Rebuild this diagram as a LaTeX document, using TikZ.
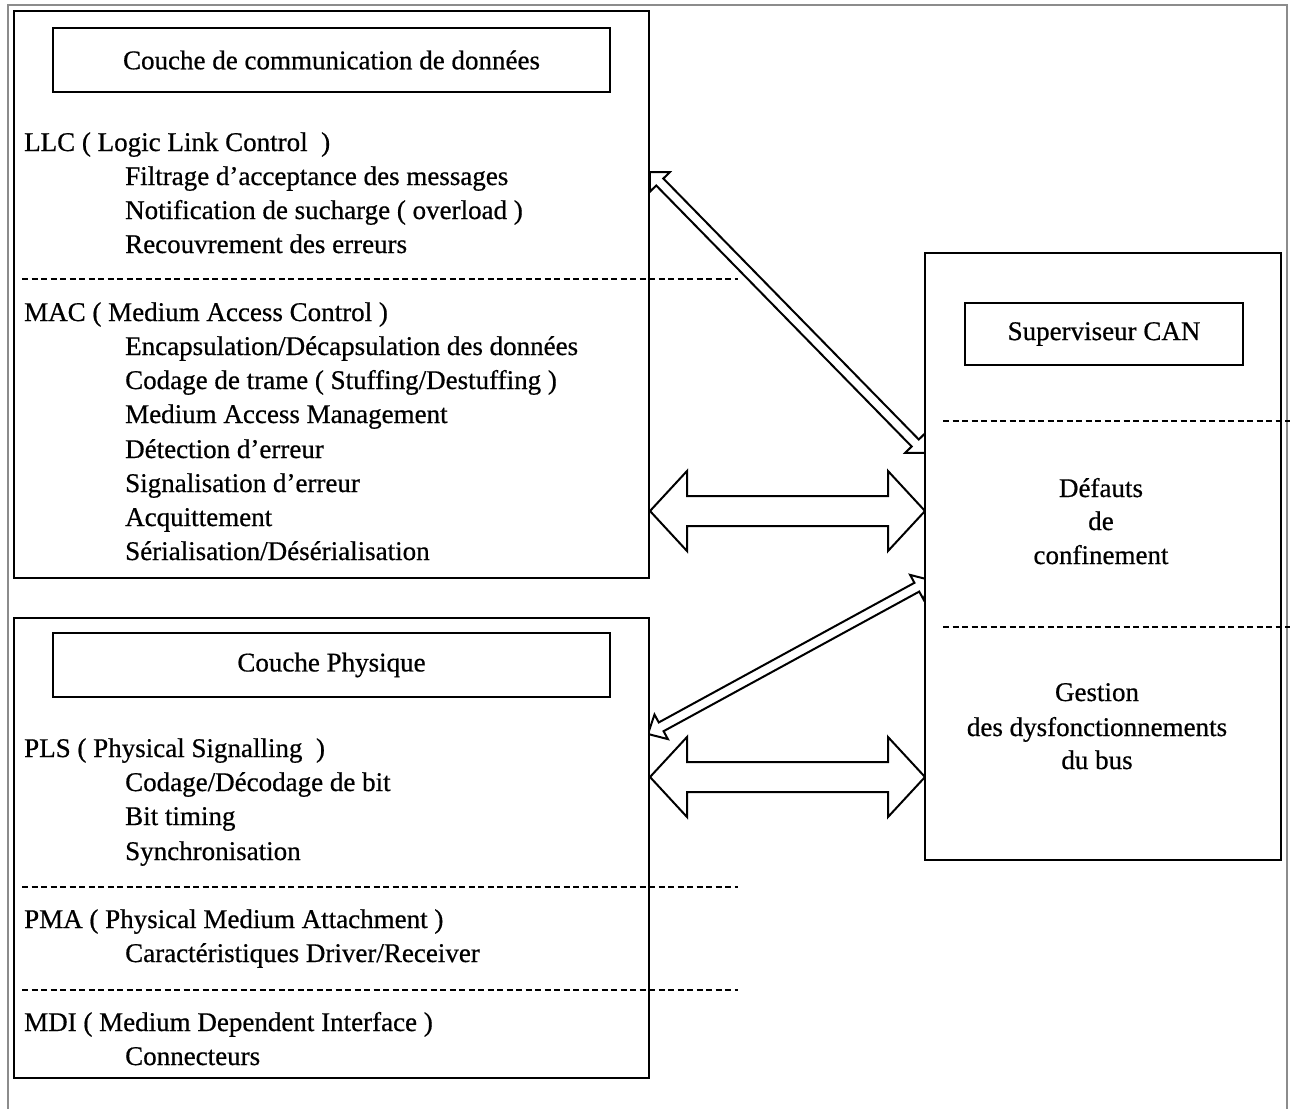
\documentclass[tikz,border=0pt]{standalone}
\usepackage{fontspec}
\setmainfont{Liberation Serif}[FakeBold=0.6]
\usetikzlibrary{calc}
\newcommand\dblblockarrow[5]{% start, end, shaft half-width, head half-width, head length
  \coordinate (tmpa) at ($(#1)!#5!(#2)$);
  \coordinate (tmpb) at ($(#2)!#5!(#1)$);
  \draw[blockarrow] (#1) -- ($(tmpa)!#4!90:(#2)$) -- ($(tmpa)!#3!90:(#2)$)
    -- ($(tmpb)!#3!-90:(#1)$) -- ($(tmpb)!#4!-90:(#1)$) -- (#2)
    -- ($(tmpb)!#4!90:(#1)$) -- ($(tmpb)!#3!90:(#1)$)
    -- ($(tmpa)!#3!-90:(#2)$) -- ($(tmpa)!#4!-90:(#2)$) -- cycle;
}
\begin{document}
\begin{tikzpicture}[x=1pt,y=-1pt,
  frame/.style={draw=black, line width=2.4pt, inner sep=0pt, outer sep=0pt},
  txt/.style={anchor=base west, inner sep=0pt, font=\fontsize{27pt}{32pt}\selectfont},
  ctxt/.style={anchor=base, inner sep=0pt, font=\fontsize{27pt}{32pt}\selectfont},
  sepline/.style={draw=black, line width=1.6pt, dash pattern=on 6pt off 3.5pt},
  blockarrow/.style={draw=black, line width=2pt, fill=white, line join=miter},
  outerframe/.style={draw=black!45, line width=2.5pt}]
\useasboundingbox (0,0) rectangle (1292,1108);
\fill[white] (0,0) rectangle (1292,1108);
\draw[outerframe] (8,5) rectangle (1287,1140);

% main boxes
\node[frame, anchor=north west, minimum width=635pt, minimum height=567pt] (comm) at (14,11) {};
\node[frame, anchor=north west, minimum width=635pt, minimum height=460pt] (phys) at (14,618) {};
\node[frame, anchor=north west, minimum width=356pt, minimum height=607pt] (sup) at (925,253) {};

% title boxes
\node[frame, minimum width=557pt, minimum height=64pt, font=\fontsize{27pt}{32pt}\selectfont] (commtitle) at (331.5,60) {Couche de communication de données};
\node[frame, minimum width=557pt, minimum height=64pt, font=\fontsize{27pt}{32pt}\selectfont] (phystitle) at (331.5,665) {Couche Physique};
\node[frame, minimum width=278pt, minimum height=62pt, font=\fontsize{27pt}{32pt}\selectfont] (suptitle) at (1104,334) {Superviseur CAN};

% dashed separators
\draw[sepline] (22,279) -- (738,279);
\draw[sepline] (22,887) -- (738,887);
\draw[sepline] (22,990) -- (738,990);
\draw[sepline] (943,421) -- (1290,421);
\draw[sepline] (943,627) -- (1290,627);

% texts of upper box
\node[txt] (llc) at (24,151) {LLC ( Logic Link Control~~)};
\node[txt] (llc1) at (125,185) {Filtrage d'acceptance des messages};
\node[txt] (llc2) at (125,219) {Notification de sucharge ( overload )};
\node[txt] (llc3) at (125,253) {Recouvrement des erreurs};
\node[txt] (mac) at (24,321) {MAC ( Medium Access Control )};
\node[txt] (mac1) at (125,355) {Encapsulation/Décapsulation des données};
\node[txt] (mac2) at (125,389) {Codage de trame ( Stuffing/Destuffing )};
\node[txt] (mac3) at (125,423) {Medium Access Management};
\node[txt] (mac4) at (125,458) {Détection d'erreur};
\node[txt] (mac5) at (125,492) {Signalisation d'erreur};
\node[txt] (mac6) at (125,526) {Acquittement};
\node[txt] (mac7) at (125,560) {Sérialisation/Désérialisation};

% texts of lower box
\node[txt] (pls) at (24,757) {PLS ( Physical Signalling~~)};
\node[txt] (pls1) at (125,791) {Codage/Décodage de bit};
\node[txt] (pls2) at (125,825) {Bit timing};
\node[txt] (pls3) at (125,860) {Synchronisation};
\node[txt] (pma) at (24,928) {PMA ( Physical Medium Attachment )};
\node[txt] (pma1) at (125,962) {Caractéristiques Driver/Receiver};
\node[txt] (mdi) at (24,1031) {MDI ( Medium Dependent Interface )};
\node[txt] (mdi1) at (125,1065) {Connecteurs};

% texts of right box
\node[ctxt] (def1) at (1101,497) {Défauts};
\node[ctxt] (def2) at (1101,530) {de};
\node[ctxt] (def3) at (1101,564) {confinement};
\node[ctxt] (ges1) at (1097,701) {Gestion};
\node[ctxt] (ges2) at (1097,736) {des dysfonctionnements};
\node[ctxt] (ges3) at (1097,769) {du bus};

% arrow end points
\coordinate (t1a) at ($(comm.north east)+(1,161)$);
\coordinate (t1b) at ($(sup.north west)+(0,200)$);
\coordinate (b1a) at ($(comm.north east)+(1,500)$);
\coordinate (b1b) at ($(sup.north west)+(0,258)$);
\coordinate (t2a) at ($(phys.north east)+(-1,116)$);
\coordinate (t2b) at ($(sup.north west)+(5,327)$);
\coordinate (b2a) at ($(phys.north east)+(1,159)$);
\coordinate (b2b) at ($(sup.north west)+(0,524)$);

\begin{scope}
  \clip ($(comm.north east)+(1.2,0)$) rectangle ($(sup.south west)+(-1.2,300)$);
  \dblblockarrow{t1a}{t1b}{5pt}{14pt}{14pt}
  \dblblockarrow{t2a}{t2b}{5pt}{14pt}{15pt}
  \dblblockarrow{b1a}{b1b}{15pt}{40pt}{37pt}
  \dblblockarrow{b2a}{b2b}{15pt}{40pt}{37pt}
\end{scope}
\end{tikzpicture}
\end{document}
